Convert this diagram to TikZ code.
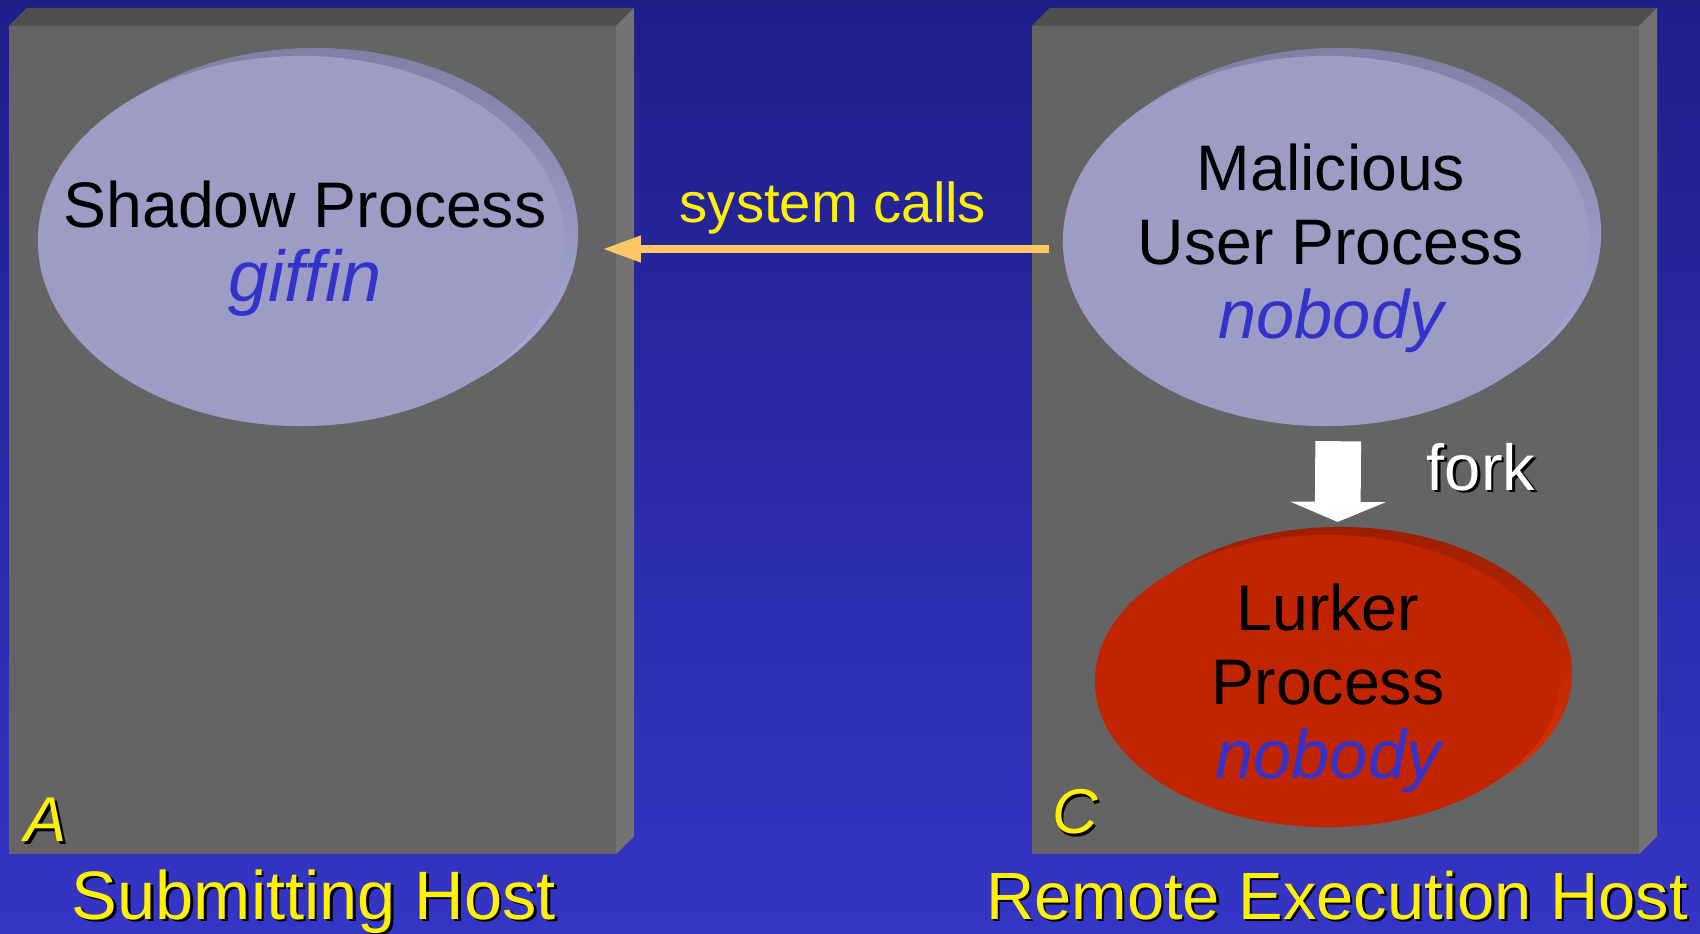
\documentclass[tikz,border=0pt]{standalone}
\usepackage{fontspec}
\setmainfont{Liberation Sans}
\usetikzlibrary{positioning,shapes,arrows.meta}
\definecolor{bgtop}{HTML}{1F1F8A}
\definecolor{bgbot}{HTML}{3535C6}
\definecolor{hostface}{HTML}{646464}
\definecolor{hosttop}{HTML}{4F4F4F}
\definecolor{hostside}{HTML}{737373}
\definecolor{procfill}{HTML}{9C9CC4}
\definecolor{procrimtop}{HTML}{8080A4}
\definecolor{procrimbot}{HTML}{AEAEE0}
\definecolor{lurkfill}{HTML}{C02400}
\definecolor{lurkrimtop}{HTML}{9C1E00}
\definecolor{lurkrimbot}{HTML}{E83400}
\definecolor{userblue}{HTML}{3333CC}
\definecolor{callorange}{HTML}{FFC766}
\newcommand\dropsh[1]{\makebox[0pt][l]{\kern0.7pt\raisebox{-0.7pt}{\color{black}#1}}#1}
\newcommand\owner[2][19.5]{{\color{userblue}\itshape\fontsize{#1}{21}\selectfont #2}}

\begin{document}
\begin{tikzpicture}
        [x=0.01cm, y=-0.01cm,
        every node/.style={inner sep=0pt, outer sep=0pt},
        hostbox/.style={fill=hostface, minimum width=6.07cm, minimum height=8.28cm},
        proc/.style={ellipse, fill=procfill, minimum width=5.26cm, minimum height=3.70cm},
        procrim/.style={ellipse, top color=procrimtop, bottom color=procrimbot,
        minimum width=5.26cm, minimum height=3.70cm},
        lurk/.style={ellipse, fill=lurkfill, minimum width=4.64cm, minimum height=2.92cm},
        lurkrim/.style={ellipse, top color=lurkrimtop, bottom color=lurkrimbot,
        minimum width=4.64cm, minimum height=2.92cm},
        proctext/.style={align=center, font=\fontsize{18.3}{21}\selectfont},
        hostlabel/.style={text=yellow, font=\fontsize{19.5}{22}\selectfont, anchor=base},
        corner/.style={text=yellow, font=\fontsize{18}{20}\selectfont\itshape},
        callarrow/.style={draw=callorange, line width=2.3pt, -{Triangle[length=11pt,width=7pt]}},
        forkarrow/.style={draw=white, line width=13pt, -{Triangle[length=5.7pt,width=27pt]}}]
        \shade[top color=bgtop, bottom color=bgbot] (0,0) rectangle (1700,933);
        \useasboundingbox (0,0) rectangle (1700,933);
        % hosts
        \foreach \h/\x in {hostA/312.5, hostC/1335.5} {
            \node[hostbox] (\h) at (\x,440) {};
            \fill[hosttop] (\h.north west) -- ++(18,-18) -- ([shift={(18,-18)}]\h.north east)
                -- (\h.north east) -- cycle;
            \fill[hostside] (\h.north east) -- ++(18,-18) -- ([shift={(18,-18)}]\h.south east)
                -- (\h.south east) -- cycle;
        }
        % processes
        \node[procrim] (shadowrim) at (315,233) {};
        \node[proc] (shadow) at (301,241) {};
        \node[procrim] (malrim) at (1338,233) {};
        \node[proc] (mal) at (1326,241) {};
        \node[lurkrim] (lurkerrim) at (1340,673) {};
        \node[lurk] (lurker) at (1327,681) {};
        \node[proctext] (shadowtxt) at (305,249) {Shadow Process\\\owner[20.5]{giffin}};
        \node[proctext] (maltxt) at (1331,248) {Malicious\\User Process\\\owner{nobody}};
        \node[proctext] (lurkertxt) at (1328,688) {Lurker\\Process\\\owner{nobody}};
        % connectors
        \draw[callarrow] ([shift={(-14,8)}]mal.west) -- ([shift={(38,8)}]shadow.east);
        \node[text=yellow, font=\fontsize{16}{18}\selectfont, anchor=base] (calls) at (833,222) {system calls};
        \draw[forkarrow, shorten <=4.3pt, shorten >=3.7pt] ([xshift=3.5pt]mal.south) -- ([xshift=3pt]lurker.north);
        \node[text=white, font=\fontsize{18.5}{20}\selectfont, anchor=base] (fork) at (1481,490) {\dropsh{fork}};
        % labels
        \node[corner] (labA) at (46,821) {\dropsh{A}};
        \node[corner] (labC) at (1075,813) {\dropsh{C}};
        \node[hostlabel] (subhost) at (314,919) {\dropsh{Submitting Host}};
        \node[hostlabel, font=\fontsize{19}{22}\selectfont] (remhost) at (1337,919) {\dropsh{Remote Execution Host}};
\end{tikzpicture}
\end{document}
